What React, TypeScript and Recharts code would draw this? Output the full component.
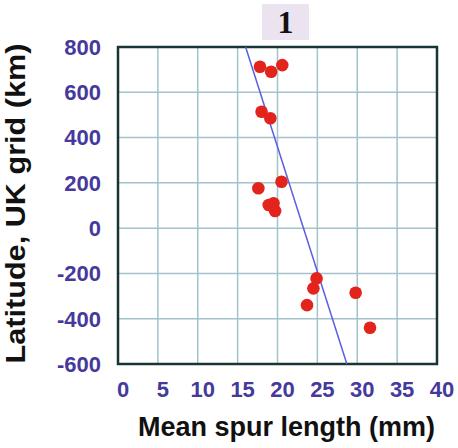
import React from "react";
import { ScatterChart, Scatter, XAxis, YAxis, CartesianGrid, ReferenceLine, ReferenceArea } from "recharts";

const spurLength = [17.8, 19.2, 20.6, 18.0, 19.1, 17.6, 20.5, 18.9, 19.5, 19.7, 24.9, 24.5, 29.8, 23.7, 31.6];
const latitude = [713, 691, 720, 514, 485, 176, 205, 102, 110, 76, -222, -266, -285, -340, -440];
const xTicks = [0, 5, 10, 15, 20, 25, 30, 35, 40];
const yTicks = [-600, -400, -200, 0, 200, 400, 600, 800];
const fitLineX = [16.0, 28.7];
const fitLineY = [800, -600];
const panelTitle = "1";
const xTitle = "Mean spur length (mm)";
const yTitle = "Latitude, UK grid (km)";

const points = spurLength.map((x, i) => ({ x, y: latitude[i] }));
const segment = fitLineX.map((x, i) => ({ x, y: fitLineY[i] }));

const tickColor = "#46399c";
const font = "'Liberation Sans', Arial, sans-serif";

const XTick = (props: any) => {
  const { x, y, payload } = props;
  return (
    <text x={x + 5} y={y} dy="0.71em" textAnchor="middle" fill={tickColor} fontSize={22} fontWeight="bold" fontFamily={font}>
      {payload.value}
    </text>
  );
};

const YTick = (props: any) => {
  const { x, y, payload } = props;
  return (
    <text x={x} y={y} dy="0.355em" textAnchor="end" fill={tickColor} fontSize={22} fontWeight="bold" fontFamily={font}>
      {payload.value}
    </text>
  );
};

const XLabel = (props: any) => {
  const vb = props.viewBox;
  return (
    <text x={vb.x + vb.width / 2 + 9} y={vb.y + 72} textAnchor="middle" fill="#111" fontSize={27} fontWeight="bold" fontFamily={font}>
      {xTitle}
    </text>
  );
};

const YLabel = (props: any) => {
  const vb = props.viewBox;
  const cx = 15;
  const cy = vb.y + vb.height / 2 - 2;
  return (
    <text
      x={cx}
      y={cy}
      transform={`rotate(-90, ${cx}, ${cy})`}
      dy="0.355em"
      textAnchor="middle"
      fill="#111"
      fontSize={28}
      fontWeight="bold"
      fontFamily={font}
      textLength={320}
      lengthAdjust="spacingAndGlyphs"
    >
      {yTitle}
    </text>
  );
};

const Dot = (props: any) => <circle cx={props.cx} cy={props.cy} r={6.3} fill="#e3241d" />;

export default function App() {
  return (
    <div style={{ position: "absolute", left: 0, top: 0, width: 458, height: 448, background: "#fff" }}>
      <ScatterChart width={458} height={448} margin={{ top: 47, right: 21, bottom: 0, left: 0 }}>
        <CartesianGrid stroke="#a3c2cb" strokeWidth={1.5} />
        <XAxis
          type="number"
          dataKey="x"
          domain={[0, 40]}
          ticks={xTicks}
          interval={0}
          height={84}
          tickSize={0}
          tickMargin={17}
          axisLine={false}
          tickLine={false}
          tick={<XTick />}
          label={<XLabel />}
        />
        <YAxis
          type="number"
          dataKey="y"
          domain={[-600, 800]}
          ticks={yTicks}
          interval={0}
          width={118}
          tickSize={0}
          tickMargin={17}
          axisLine={false}
          tickLine={false}
          tick={<YTick />}
          label={<YLabel />}
        />
        <ReferenceArea x1={0} x2={40} y1={-600} y2={800} fill="none" stroke="#1a3436" strokeWidth={2.5} fillOpacity={0} ifOverflow="visible" />
        <ReferenceLine segment={segment} stroke="#5a5fe0" strokeWidth={1.5} ifOverflow="visible" />
        <Scatter data={points} shape={<Dot />} isAnimationActive={false} />
      </ScatterChart>
      <div
        style={{
          position: "absolute",
          left: 262,
          top: 4,
          width: 47,
          height: 36,
          background: "#ece3f0",
          color: "#111",
          fontFamily: "'Liberation Serif', 'Times New Roman', serif",
          fontWeight: "bold",
          fontSize: 32,
          lineHeight: "36px",
          textAlign: "center",
        }}
      >
        {panelTitle}
      </div>
    </div>
  );
}
